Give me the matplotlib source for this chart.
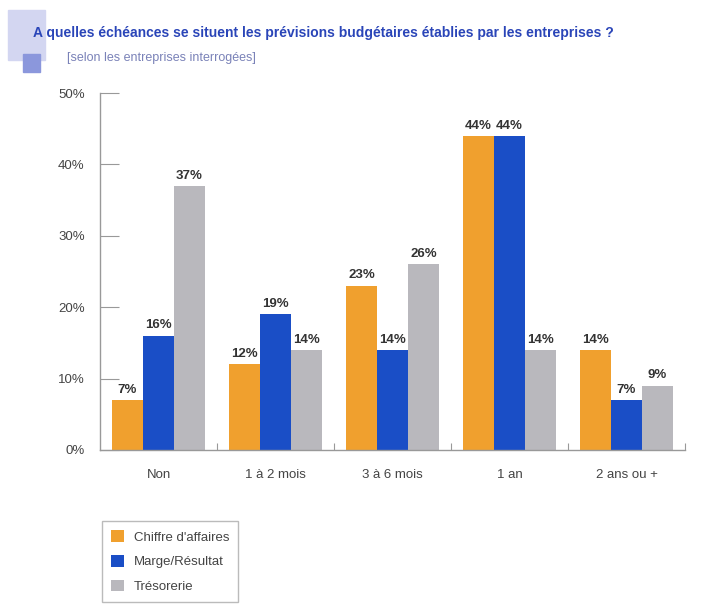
import numpy as np
import matplotlib.pyplot as plt
from matplotlib.patches import Rectangle

categories = ["Non", "1 à 2 mois", "3 à 6 mois", "1 an", "2 ans ou +"]
series_names = ["Chiffre d'affaires", "Marge/Résultat", "Trésorerie"]
chiffre = [7, 12, 23, 44, 14]
marge = [16, 19, 14, 44, 7]
tresorerie = [37, 14, 26, 14, 9]
yticks = [0, 10, 20, 30, 40, 50]

colors = ["#f0a02e", "#1a4ec6", "#b9b8bd"]
plt.rcParams['font.family'] = ['Liberation Sans', 'DejaVu Sans']

fig = plt.figure(figsize=(7.04, 6.08), dpi=100)
fig.patch.set_facecolor("white")

# decorative squares next to the title
fig.patches.append(Rectangle((8 / 704, 1 - 60 / 608), 37 / 704, 50 / 608,
                             transform=fig.transFigure, color="#d3d6f1", zorder=0))
fig.patches.append(Rectangle((23 / 704, 1 - 72 / 608), 17 / 704, 18 / 608,
                             transform=fig.transFigure, color="#8b97dc", zorder=1))
fig.text(33 / 704, 1 - 33 / 608,
         "A quelles échéances se situent les prévisions budgétaires établies par les entreprises ?",
         fontsize=10, fontweight="bold", color="#2a45b8", va="center", zorder=2)
fig.text(67 / 704, 1 - 58 / 608, "[selon les entreprises interrogées]",
         fontsize=9, color="#7a82b8", va="center", zorder=2)

ax = fig.add_axes([100 / 704, 1 - 450 / 608, 585 / 704, 357 / 608])
x = np.arange(len(categories)) + 0.5
w = 0.265
data = [chiffre, marge, tresorerie]
for i, (vals, col, name) in enumerate(zip(data, colors, series_names)):
    pos = x + (i - 1) * w
    ax.bar(pos, vals, width=w, color=col, label=name, zorder=2)
    for xp, v in zip(pos, vals):
        ax.text(xp, v + 0.6, f"{v}%", ha="center", va="bottom",
                fontsize=9.5, fontweight="bold", color="#333333")

ax.set_xlim(0, len(categories))
ax.set_ylim(0, 50)
ax.set_yticks(yticks)
ax.set_yticklabels([f"{t}%" for t in yticks], fontsize=9.5, color="#444444")
ax.tick_params(axis="y", direction="in", length=14, color="#999999", pad=11)
ax.set_xticks(np.arange(1, len(categories) + 1))
ax.set_xticklabels([])
ax.tick_params(axis="x", direction="in", length=5, color="#999999")
for xp, c in zip(x, categories):
    ax.text(xp, -2.6, c, ha="center", va="top", fontsize=9.5, color="#444444")

for s in ["top", "right"]:
    ax.spines[s].set_visible(False)
for s in ["left", "bottom"]:
    ax.spines[s].set_color("#999999")
    ax.spines[s].set_linewidth(1.0)

leg = fig.legend(loc="upper left", bbox_to_anchor=(102 / 704, 1 - 521 / 608),
                 frameon=True, fontsize=9.5, handlelength=1.0, handleheight=1.0,
                 borderpad=0.7, labelspacing=0.85, handletextpad=0.7,
                 fancybox=False, borderaxespad=0)
leg.get_frame().set_edgecolor("#aaaaaa")
leg.get_frame().set_linewidth(1.0)
for t in leg.get_texts():
    t.set_color("#444444")

fig.savefig("out.png", dpi=100)
